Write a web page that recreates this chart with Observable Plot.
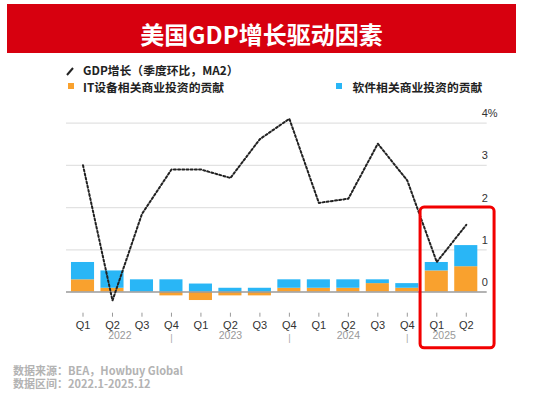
<!DOCTYPE html>
<html><head><meta charset="utf-8">
<script src="https://cdn.jsdelivr.net/npm/d3@7"></script>
<script src="https://cdn.jsdelivr.net/npm/@observablehq/plot@0.6"></script>
<style>
body{margin:0;background:#fff;width:554px;height:395px;overflow:hidden;position:relative;font-family:"Noto Sans CJK SC","Noto Sans",sans-serif;}
.abs{position:absolute;white-space:nowrap;}
#tbox{left:7px;top:4px;width:509px;height:49px;background:#D7000F;}
#title{left:7px;width:509px;top:21px;line-height:26px;text-align:center;color:#fff;font-weight:700;font-size:24px;}
.leg{font-size:11.8px;font-weight:700;color:#222;line-height:14px;}
.sq{width:6px;height:6px;}
.foot{font-size:11px;font-weight:700;color:#b3b3b3;line-height:13.5px;left:13px;}
#chart{left:0;top:95px;}
</style></head>
<body>
<div class="abs" id="tbox"></div>
<div class="abs" id="title">美国GDP增长驱动因素</div>
<svg class="abs" style="left:65px;top:66px" width="10" height="11"><line x1="2" y1="9" x2="8" y2="2" stroke="#222" stroke-width="2"/></svg>
<div class="abs leg" style="left:83px;top:63px">GDP增长（季度环比，MA2）</div>
<div class="abs sq" style="left:67.5px;top:82.5px;background:#F9A12E"></div>
<div class="abs leg" style="left:83px;top:79.5px">IT设备相关商业投资的贡献</div>
<div class="abs sq" style="left:336px;top:82.5px;background:#29B6F6"></div>
<div class="abs leg" style="left:352.5px;top:79.5px">软件相关商业投资的贡献</div>
<div class="abs foot" style="top:363.5px">数据来源：BEA，Howbuy Global<br>数据区间：2022.1-2025.12</div>
<div class="abs" id="chart"></div>
<script>
const years = ["2022","2023","2024","2025"];
const quarterNames = ["Q1","Q2","Q3","Q4"];
const quarters = ["2022Q1","2022Q2","2022Q3","2022Q4","2023Q1","2023Q2","2023Q3","2023Q4","2024Q1","2024Q2","2024Q3","2024Q4","2025Q1","2025Q2"];
const itContrib = [0.29, 0.09, 0.00, -0.09, -0.20, -0.09, -0.09, 0.09, 0.09, 0.09, 0.20, 0.09, 0.50, 0.60];
const swContrib = [0.41, 0.41, 0.29, 0.29, 0.19, 0.09, 0.09, 0.20, 0.20, 0.20, 0.09, 0.11, 0.20, 0.50];
const gdpGrowth = [3.0, -0.2, 1.85, 2.9, 2.9, 2.7, 3.62, 4.1, 2.11, 2.21, 3.51, 2.64, 0.71, 1.59];
const yTicks = [0, 1, 2, 3, 4];

const n = quarters.length;
const bars = [];
quarters.forEach((q, i) => {
  bars.push({i, s: "IT", v: itContrib[i]});
  bars.push({i, s: "SW", v: swContrib[i]});
});
const lineData = gdpGrowth.map((v, i) => ({x: i + 0.5, v}));
const yearData = years.map(y => {
  const prevQ4 = quarters.indexOf((+y - 1) + "Q4");
  const thisQ4 = quarters.indexOf(y + "Q4");
  const start = prevQ4 >= 0 ? prevQ4 + 0.5 : 0;
  const end = thisQ4 >= 0 ? thisQ4 + 0.5 : n;
  return {year: y, mid: (start + end) / 2, sep: thisQ4 >= 0 ? thisQ4 + 0.5 : null};
});
const seps = yearData.filter(d => d.sep != null);
const hl = quarters.map((q, i) => q.startsWith("2025") ? i : -1).filter(i => i >= 0);

const qFont = "'Liberation Sans Narrow', 'Liberation Sans', sans-serif";
const chart = Plot.plot({
  width: 554,
  height: 260,
  marginLeft: 66,
  marginRight: 67.3,
  marginTop: 6.4,
  marginBottom: 42.3,
  x: {domain: [-0.06, 14.21], axis: null},
  y: {domain: [-0.5, 4.5], axis: null},
  color: {domain: ["IT", "SW"], range: ["#F9A12E", "#29B6F6"]},
  style: {fontFamily: "'Liberation Sans', Arial, sans-serif", background: "transparent", overflow: "visible"},
  marks: [
    Plot.ruleY(yTicks.filter(d => d > 0), {stroke: "#e2e2e2", strokeWidth: 1.3}),
    Plot.rectY(bars, {x: "i", interval: 1, y: "v", fill: "s", insetLeft: 3.2, insetRight: 3.2}),
    Plot.ruleY([0], {stroke: "#9a9a9a", strokeWidth: 1.6}),
    Plot.line(lineData, {x: "x", y: "v", stroke: "#222", strokeWidth: 2, strokeDasharray: "2,2.2"}),
    Plot.text(yTicks, {y: d => d, text: d => d === 4 ? "4%" : String(d), frameAnchor: "right", textAnchor: "start", dx: -5.5, dy: -9.5, fontSize: 11, fill: "#333", fontFamily: qFont}),
    Plot.axisX({ticks: quarters.map((q, i) => i + 0.5), tickFormat: v => quarterNames[+quarters[Math.floor(v)].slice(5) - 1], tickSize: 4, tickPadding: 3.5, stroke: "#999", fill: "#333", fontSize: 11, fontFamily: qFont}),
    Plot.text(yearData, {x: "mid", text: "year", frameAnchor: "bottom", dy: 26, fill: "#999", fontSize: 10.5}),
    Plot.text(seps, {x: "sep", text: () => "|", frameAnchor: "bottom", dy: 27.5, fill: "#aaa", fontSize: 9.5}),
    Plot.rect([0], {x1: hl[0] - 0.05, x2: hl[hl.length - 1] + 1.46, y1: -1.33, y2: 2, stroke: "#f20000", fill: "none", strokeWidth: 3, rx: 4})
  ]
});
document.getElementById("chart").appendChild(chart);
</script>
</body></html>
